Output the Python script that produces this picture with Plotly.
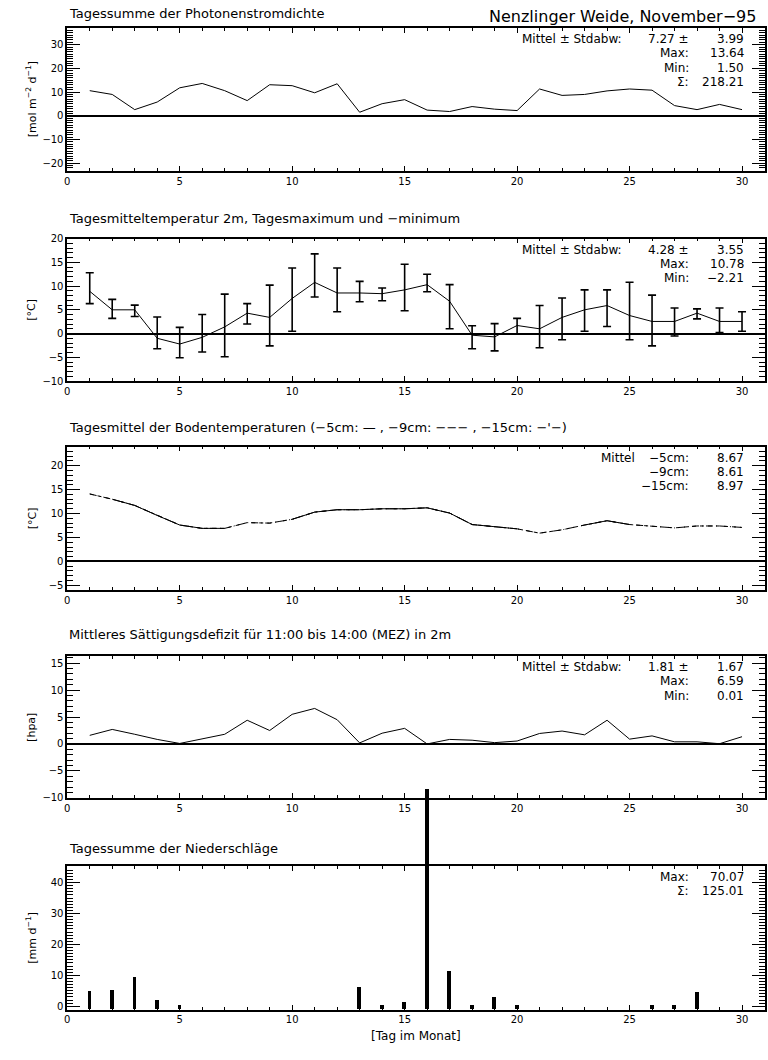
import plotly.graph_objects as go

# ---------------- data ----------------
days = list(range(1, 31))

photon = [10.6, 9.0, 2.6, 5.8, 11.8, 13.64, 10.6, 6.4, 13.1, 12.7,
          9.7, 13.5, 1.50, 5.1, 6.8, 2.4, 1.8, 3.9, 2.8, 2.2,
          11.3, 8.6, 9.0, 10.5, 11.3, 10.8, 4.3, 2.6, 4.8, 2.6]

t_mean = [8.9, 5.0, 5.0, -1.0, -2.21, -0.8, 1.4, 4.3, 3.4, 7.4,
          10.78, 8.55, 8.55, 8.4, 9.2, 10.3, 6.8, -0.35, -0.7, 1.7,
          1.0, 3.4, 5.0, 5.9, 3.8, 2.55, 2.55, 4.3, 2.55, 2.55]
t_max = [12.8, 7.2, 6.0, 3.5, 1.3, 4.0, 8.3, 6.3, 10.2, 13.8,
         16.8, 13.8, 11.0, 9.6, 14.6, 12.5, 10.3, 1.65, 2.1, 3.2,
         5.9, 7.5, 9.2, 9.2, 10.8, 8.1, 5.4, 5.2, 5.4, 4.6]
t_min = [6.3, 3.2, 3.6, -3.2, -5.1, -3.9, -4.9, 2.0, -2.6, 0.5,
         7.7, 4.6, 6.7, 6.9, 4.8, 8.8, 1.0, -3.2, -3.65, -0.1,
         -3.0, -1.3, 0.5, 1.5, -1.3, -2.6, -0.5, 3.1, 0.2, 0.5]

soil_5 = [None, 13.0, 11.7, 9.6, 7.6, 6.9, 6.9, None, None, 8.8,
          10.3, 10.8, 10.8, 11.0, 11.0, 11.2, 10.1, 7.7, 7.2, 6.8,
          None, None, 7.6, 8.5, 7.7, None, None, None, None, None]
soil_9 = [14.1, 13.0, 11.7, 9.6, 7.6, 6.9, 6.9, 8.1, 8.0, 8.8,
          10.3, 10.8, 10.8, 11.0, 11.0, 11.2, 10.1, 7.7, 7.2, 6.8,
          5.9, 6.6, 7.6, 8.5, 7.7, 7.3, 7.0, 7.4, 7.4, 7.1]
soil_15 = [14.1, 13.0, 11.7, 9.6, 7.6, 6.9, 6.9, 8.1, 8.0, 8.8,
           10.3, 10.8, 10.8, 11.0, 11.0, 11.2, 10.1, 7.7, 7.2, 6.8,
           5.9, 6.6, 7.6, 8.5, 7.7, 7.3, 7.0, 7.4, 7.4, 7.1]

vpd = [1.6, 2.7, 1.8, 0.85, 0.1, 1.0, 1.8, 4.4, 2.5, 5.5,
       6.59, 4.5, 0.2, 2.0, 2.9, 0.01, 0.85, 0.7, 0.25, 0.55,
       1.95, 2.4, 1.7, 4.4, 0.9, 1.5, 0.4, 0.4, 0.05, 1.35]

precip = [5.0, 5.3, 9.5, 2.0, 0.2, 0, 0, 0, 0, 0,
          0, 0, 6.3, 0.2, 1.2, 70.07, 11.5, 0.2, 3.0, 0.5,
          0, 0, 0, 0, 0, 0.2, 0.4, 4.7, 0, 0]

titles = ["Tagessumme der Photonenstromdichte",
          "Tagesmitteltemperatur 2m, Tagesmaximum und −minimum",
          "Tagesmittel der Bodentemperaturen (−5cm: — , −9cm: −−− , −15cm: −'−)",
          "Mittleres Sättigungsdefizit für 11:00 bis 14:00 (MEZ) in 2m",
          "Tagessumme der Niederschläge"]
ylabels = ["[mol m<sup>−2</sup> d<sup>−1</sup>]", "[°C]", "[°C]", "[hpa]",
           "[mm d<sup>−1</sup>]"]
main_title = "Nenzlinger Weide, November−95"
x_title = "[Tag im Monat]"

stats = [
    [[("Mittel ± Stdabw:", 0), ("7.27 ±", 1), ("3.99", 2)],
     [("Max:", 1), ("13.64", 2)],
     [("Min:", 1), ("1.50", 2)],
     [("Σ:", 1), ("218.21", 2)]],
    [[("Mittel ± Stdabw:", 0), ("4.28 ±", 1), ("3.55", 2)],
     [("Max:", 1), ("10.78", 2)],
     [("Min:", 1), ("−2.21", 2)]],
    [[("Mittel", 3), ("−5cm:", 1), ("8.67", 2)],
     [("−9cm:", 1), ("8.61", 2)],
     [("−15cm:", 1), ("8.97", 2)]],
    [[("Mittel ± Stdabw:", 0), ("1.81 ±", 1), ("1.67", 2)],
     [("Max:", 1), ("6.59", 2)],
     [("Min:", 1), ("0.01", 2)]],
    [[("Max:", 1), ("70.07", 2)],
     [("Σ:", 1), ("125.01", 2)]],
]

# ---------------- layout geometry (pixels) ----------------
W, H = 768, 1060
X_L, X_R = 64.5, 764.5
panels = [(22.3, 166.7), (235.3, 379.3), (445.7, 590.7), (657.5, 801.0), (870.0, 1015.0)]
yranges = [[-23.2, 37.0], [-10.0, 20.0], [-6.0, 24.0], [-10.0, 16.3], [-1.05, 45.3]]
XRANGE = [0, 31]
ydticks = [10, 5, 5, 5, 10]
title_y = [8, 215, 426, 636, 852]
col_x = [623, 691, 746, 636]
FONT = "DejaVu Sans"


def px(x):
    return x / W


def py(y):
    return 1 - y / H


fig = go.Figure()

line = dict(color="black", width=1)
fig.add_trace(go.Scatter(x=days, y=photon, mode="lines", line=line,
                         xaxis="x", yaxis="y", showlegend=False))
fig.add_trace(go.Scatter(
    x=days, y=t_mean, mode="lines", line=line, xaxis="x2", yaxis="y2",
    showlegend=False,
    error_y=dict(type="data", symmetric=False,
                 array=[a - m for a, m in zip(t_max, t_mean)],
                 arrayminus=[m - b for m, b in zip(t_mean, t_min)],
                 color="black", thickness=1.6, width=4)))
fig.add_trace(go.Scatter(x=days, y=soil_9, mode="lines",
                         line=dict(color="black", width=1, dash="4px,4px"),
                         xaxis="x3", yaxis="y3", showlegend=False))
fig.add_trace(go.Scatter(x=days, y=soil_15, mode="lines",
                         line=dict(color="black", width=1, dash="7px,3px,1px,3px"),
                         xaxis="x3", yaxis="y3", showlegend=False))
fig.add_trace(go.Scatter(x=days, y=soil_5, mode="lines", line=line,
                         connectgaps=False,
                         xaxis="x3", yaxis="y3", showlegend=False))
fig.add_trace(go.Scatter(x=days, y=vpd, mode="lines", line=line,
                         xaxis="x4", yaxis="y4", showlegend=False))

# precipitation bars (drawn from the bottom of the frame, as in the original)
p5_top, p5_bot = panels[4]
ext_top = 700.0
ymin5, ymax5 = yranges[4]
bar_h = [(v - ymin5) if v else None for v in precip]
bar_style = dict(color="black", line=dict(width=0))
fig.add_trace(go.Bar(x=days, y=bar_h, base=ymin5, width=0.17, marker=bar_style,
                     xaxis="x5", yaxis="y5", showlegend=False))
# same bars on an invisible companion subplot with the identical scale that extends upward,
# so the very tall bar can rise above the frame like in the original
ext_max = ymin5 + (ymax5 - ymin5) * (p5_bot - ext_top) / (p5_bot - p5_top)
fig.add_trace(go.Bar(x=days, y=bar_h, base=ymin5, width=0.17, marker=bar_style,
                     xaxis="x6", yaxis="y6", showlegend=False, hoverinfo="skip"))

tickfont = dict(family=FONT, size=10, color="black")
layout = dict(width=W, height=H, margin=dict(l=0, r=0, t=0, b=0, pad=0),
              paper_bgcolor="white", plot_bgcolor="rgba(0,0,0,0)", showlegend=False,
              font=dict(family=FONT, color="black"), bargap=0)

for i, (top, bot) in enumerate(panels):
    n = "" if i == 0 else str(i + 1)
    layout["xaxis" + n] = dict(
        domain=[px(X_L), px(X_R)], range=XRANGE, anchor="y" + n,
        tick0=0, dtick=5, ticks="inside", ticklen=5, tickwidth=1, tickcolor="black",
        showline=True, linecolor="black", linewidth=1.5, mirror="allticks",
        showgrid=False, zeroline=False, tickfont=tickfont,
        minor=dict(dtick=1, ticks="inside", ticklen=3, tickcolor="black", showgrid=False))
    layout["yaxis" + n] = dict(
        domain=[py(bot), py(top)], range=yranges[i], anchor="x" + n,
        tick0=0, dtick=ydticks[i], ticks="inside", ticklen=13, tickwidth=1,
        tickcolor="black", showline=True, linecolor="black", linewidth=1.5,
        mirror="allticks", showgrid=False, zeroline=(i < 4), zerolinecolor="black",
        zerolinewidth=1.5, tickfont=tickfont,
        minor=dict(dtick=1, ticks="inside", ticklen=6, tickcolor="black", showgrid=False))

layout["xaxis6"] = dict(domain=[px(X_L), px(X_R)], range=XRANGE, anchor="y6",
                        visible=False, showgrid=False, zeroline=False)
layout["yaxis6"] = dict(domain=[py(p5_bot), py(ext_top)], range=[ymin5, ext_max],
                        anchor="x6", visible=False, showgrid=False, zeroline=False)

ann = []
txt = dict(family=FONT, size=12, color="black")
for i, (top, bot) in enumerate(panels):
    ann.append(dict(text=titles[i], x=px(64), y=py(title_y[i]), xref="paper", yref="paper",
                    xanchor="left", yanchor="middle", showarrow=False,
                    font=dict(family=FONT, size=13, color="black")))
    ann.append(dict(text=ylabels[i], x=px(29), y=py((top + bot) / 2), xref="paper", yref="paper",
                    xanchor="center", yanchor="middle", textangle=-90, showarrow=False,
                    font=dict(family=FONT, size=11, color="black")))
    for r, row in enumerate(stats[i]):
        yy = top + 11 + 14.5 * r
        for s, c in row:
            ann.append(dict(text=s, x=px(col_x[c]), y=py(yy), xref="paper", yref="paper",
                            xanchor="right", yanchor="middle", showarrow=False, font=txt))

ann.append(dict(text=main_title, x=px(758), y=py(11), xref="paper", yref="paper",
                xanchor="right", yanchor="middle", showarrow=False,
                font=dict(family=FONT, size=16, color="black")))
ann.append(dict(text=x_title, x=px((X_L + X_R) / 2), y=py(1042), xref="paper", yref="paper",
                xanchor="center", yanchor="middle", showarrow=False, font=txt))
layout["annotations"] = ann

fig.update_layout(**layout)
fig.write_html("out.html", config={"displayModeBar": False},
               post_script="document.body.style.margin='0px';document.body.style.overflow='hidden';")
